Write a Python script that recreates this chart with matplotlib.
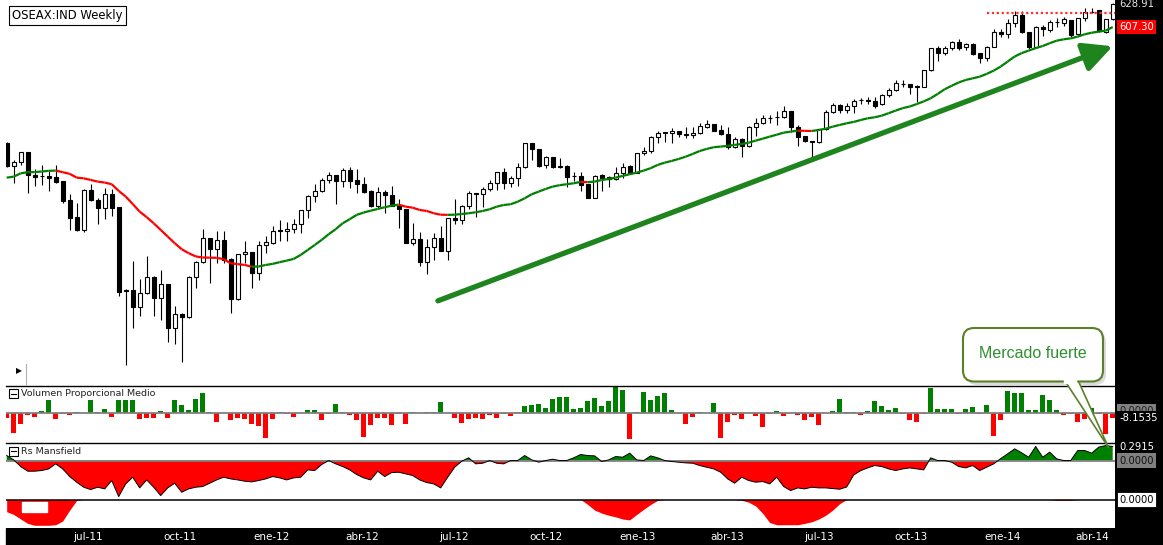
import numpy as np
import pandas as pd
import matplotlib
matplotlib.use("Agg")
import matplotlib.pyplot as plt
import matplotlib.dates as mdates
import matplotlib.transforms as mtransforms
from matplotlib.patches import Rectangle, FancyBboxPatch, Polygon
from matplotlib.collections import LineCollection
from matplotlib.lines import Line2D

plt.rcParams['font.family'] = ['DejaVu Sans']

W, H = 1163, 545

# ---------------- data (weekly candles, OSEAX) ----------------
start_date = "2011-04-11"
n_weeks = 159

opens = [509.3, 492.1, 494.8, 502.4, 485.4, 484.8, 484.7, 484.1, 481.0, 467.3,
         455.3, 446.6, 474.5, 467.5, 461.5, 471.6, 462.2, 407.6, 407.6, 397.6,
         405.7, 415.9, 402.7, 411.3, 385.2, 393.1, 391.1, 415.9, 425.6, 441.0,
         433.7, 439.9, 427.4, 402.0, 430.4, 431.9, 418.2, 436.3, 438.1, 446.4,
         445.7, 447.1, 450.5, 460.1, 470.2, 473.6, 481.7, 485.2, 481.2, 489.1,
         481.7, 478.8, 474.0, 463.3, 472.9, 470.7, 463.3, 460.8, 438.1, 440.8,
         425.6, 435.4, 441.0, 432.7, 454.6, 453.4, 463.3, 472.1, 471.4, 475.0,
         479.3, 487.4, 479.3, 482.9, 491.6, 509.3, 504.6, 492.7, 498.6, 491.6,
         492.1, 484.7, 484.7, 478.6, 469.0, 485.4, 484.1, 482.4, 487.1, 492.1,
         487.1, 501.6, 503.3, 514.1, 517.5, 517.0, 518.8, 516.2, 515.4, 517.0,
         522.3, 524.1, 519.6, 516.2, 506.2, 512.3, 507.0, 522.2, 525.0, 528.8,
         529.8, 529.6, 534.8, 522.2, 514.9, 511.0, 510.0, 520.1, 533.8, 539.7,
         535.6, 538.9, 543.7, 543.8, 543.2, 540.5, 547.9, 552.1, 557.2, 557.1,
         555.6, 554.6, 569.1, 587.9, 583.5, 587.9, 594.0, 589.1, 591.7, 583.5,
         579.3, 589.5, 603.1, 600.7, 610.8, 618.3, 602.5, 589.5, 607.6, 604.6,
         612.0, 611.3, 613.8, 601.0, 615.3, 621.5, 623.2, 603.1, 614.4]

highs = [510.0, 496.5, 502.6, 502.8, 489.6, 492.8, 489.1, 492.8, 481.3, 471.6,
         465.4, 474.8, 478.8, 468.7, 475.7, 475.2, 462.5, 408.2, 426.1, 414.4,
         429.3, 416.2, 420.3, 411.6, 398.2, 393.5, 416.7, 426.0, 447.1, 441.3,
         446.0, 446.0, 427.7, 430.7, 439.4, 432.2, 439.4, 442.2, 449.3, 453.4,
         451.8, 453.9, 460.4, 470.5, 478.6, 482.9, 487.4, 485.5, 490.4, 491.6,
         489.6, 483.7, 474.3, 476.9, 474.5, 477.4, 467.8, 461.1, 451.1, 445.1,
         440.4, 444.4, 449.5, 454.9, 468.0, 463.6, 474.0, 472.4, 476.9, 481.7,
         487.9, 490.4, 484.7, 494.0, 509.6, 509.6, 504.9, 499.5, 498.9, 497.8,
         492.4, 487.9, 487.9, 478.9, 485.2, 486.2, 484.9, 491.6, 494.5, 492.8,
         501.9, 506.6, 514.9, 519.1, 518.3, 520.9, 519.1, 521.7, 521.7, 525.0,
         527.5, 524.4, 523.6, 522.2, 514.4, 513.1, 522.5, 528.9, 531.6, 531.6,
         535.1, 538.9, 535.1, 523.6, 515.2, 511.3, 520.4, 535.6, 541.6, 540.5,
         541.0, 544.4, 545.7, 546.6, 546.6, 548.8, 553.5, 560.5, 560.5, 557.4,
         555.9, 569.4, 588.2, 590.1, 590.1, 594.3, 596.1, 593.1, 593.1, 583.8,
         589.8, 605.2, 605.2, 614.4, 622.6, 622.6, 602.8, 608.2, 609.0, 613.8,
         615.3, 616.3, 614.1, 615.6, 624.8, 624.8, 623.5, 614.7, 629.5]

lows = [491.5, 479.8, 492.8, 472.6, 477.4, 478.1, 474.0, 479.3, 465.0, 446.6,
        445.9, 445.5, 466.8, 450.5, 453.9, 456.2, 404.3, 364.0, 384.8, 392.1,
        405.3, 391.7, 389.7, 377.0, 375.5, 365.8, 390.7, 408.8, 424.6, 412.3,
        424.6, 424.6, 393.6, 401.6, 424.6, 409.2, 414.0, 431.5, 437.0, 439.2,
        439.2, 444.4, 444.8, 455.0, 466.1, 473.3, 479.8, 464.5, 476.9, 475.7,
        472.1, 472.6, 462.6, 461.5, 458.4, 463.0, 447.8, 437.8, 436.5, 422.9,
        417.6, 426.7, 432.4, 426.7, 450.7, 450.7, 460.8, 455.3, 462.6, 474.0,
        474.5, 475.0, 476.9, 477.4, 490.4, 496.5, 491.6, 490.4, 490.4, 490.4,
        476.9, 481.2, 474.0, 468.5, 468.7, 474.0, 476.4, 481.7, 482.9, 486.8,
        486.8, 500.3, 502.1, 509.3, 510.5, 509.7, 513.9, 513.1, 513.1, 516.5,
        520.9, 518.8, 515.9, 504.6, 505.9, 498.5, 506.5, 514.9, 524.4, 525.3,
        523.6, 528.9, 518.3, 507.0, 510.5, 497.0, 509.3, 519.8, 533.0, 533.5,
        533.0, 533.0, 540.5, 540.5, 537.0, 540.0, 546.5, 551.5, 554.9, 549.0,
        542.4, 554.3, 568.5, 577.2, 582.0, 586.6, 586.6, 586.6, 582.0, 575.5,
        577.2, 589.2, 598.6, 597.2, 607.6, 602.2, 587.2, 589.2, 599.2, 603.1,
        607.0, 608.2, 598.1, 600.1, 613.2, 620.0, 603.1, 601.6, 613.8]

closes = [492.1, 494.8, 502.4, 485.4, 483.7, 484.5, 483.4, 480.5, 466.8, 455.0,
          446.6, 474.5, 467.1, 461.5, 471.6, 461.9, 406.7, 407.4, 397.6, 405.7,
          415.9, 402.7, 411.3, 385.2, 393.1, 391.1, 415.9, 425.6, 441.0, 433.7,
          439.9, 426.7, 402.0, 430.4, 431.9, 418.2, 436.3, 438.4, 446.1, 445.7,
          447.1, 450.5, 460.1, 470.2, 473.6, 481.7, 485.2, 481.2, 489.1, 481.2,
          478.6, 473.3, 463.3, 472.9, 470.7, 463.3, 460.8, 438.1, 440.8, 425.6,
          435.4, 441.0, 432.7, 454.6, 453.4, 463.3, 472.1, 471.4, 475.0, 479.3,
          487.4, 479.3, 482.9, 491.6, 509.3, 504.6, 492.1, 498.6, 491.6, 491.8,
          483.7, 484.5, 477.9, 469.0, 484.9, 483.4, 482.4, 487.1, 491.6, 487.1,
          501.6, 503.3, 514.1, 517.0, 517.7, 518.8, 516.2, 515.4, 517.0, 522.8,
          524.1, 519.1, 516.2, 506.2, 512.3, 507.0, 522.2, 525.0, 528.9, 529.0,
          529.6, 534.8, 522.2, 514.4, 511.3, 510.0, 520.1, 533.8, 539.7, 535.6,
          538.9, 543.0, 543.9, 543.3, 538.9, 547.9, 552.1, 558.2, 557.4, 554.6,
          554.6, 569.1, 587.9, 584.0, 587.9, 594.0, 587.9, 591.7, 582.9, 579.3,
          589.5, 603.1, 600.7, 610.8, 618.3, 602.5, 589.5, 607.0, 605.2, 612.1,
          612.2, 614.4, 600.1, 615.3, 621.6, 621.7, 604.0, 614.4, 628.91]

ma_line = [483.4, 484.1, 486.6, 487.4, 487.5, 487.9, 488.4, 488.6, 487.4, 486.2,
           483.4, 482.9, 481.7, 480.5, 479.8, 478.6, 473.8, 469.7, 464.5, 459.1,
           455.3, 451.1, 446.6, 442.1, 437.7, 433.7, 431.1, 429.0, 428.3, 428.2,
           428.1, 427.2, 424.6, 424.0, 423.5, 422.4, 422.5, 423.5, 424.2, 425.3,
           426.3, 427.4, 430.0, 433.2, 436.5, 439.9, 443.7, 447.1, 451.1, 453.9,
           456.9, 458.5, 459.8, 461.0, 462.2, 463.3, 464.0, 462.6, 461.9, 460.3,
           459.6, 458.0, 457.0, 456.9, 457.0, 457.5, 458.0, 458.7, 459.6, 460.8,
           462.6, 463.8, 464.3, 466.1, 468.5, 471.4, 473.3, 475.2, 476.9, 477.9,
           478.6, 479.3, 480.3, 480.1, 480.5, 481.7, 482.4, 483.4, 484.7, 485.9,
           487.1, 488.6, 490.4, 492.8, 494.5, 495.8, 497.3, 499.0, 501.1, 503.3,
           504.9, 506.2, 506.7, 507.2, 508.0, 508.7, 509.7, 511.3, 512.8, 514.4,
           515.9, 517.5, 518.3, 519.1, 518.9, 518.8, 519.6, 520.6, 522.2, 523.6,
           524.9, 526.0, 527.5, 528.9, 529.7, 531.0, 533.0, 535.1, 537.1, 538.4,
           540.4, 542.6, 545.2, 548.8, 552.7, 555.6, 558.4, 560.5, 561.9, 563.3,
           565.7, 568.5, 572.0, 576.4, 580.8, 583.8, 586.0, 588.2, 590.1, 592.6,
           594.9, 596.1, 597.0, 598.5, 600.7, 602.1, 603.1, 604.0, 607.3]

volume_rel = [-7.7, -31.1, -17.3, -3.1, -6.6, 3.6, 20.4, -9.7, -2.0, -3.1,
              2.0, 0.5, 20.4, 2.0, 6.6, -6.6, 20.4, 20.4, 20.4, -9.7,
              -8.2, -8.2, 3.6, -8.2, 20.4, 11.7, 5.1, 21.9, 30.6, 2.0,
              -14.3, -0.5, -11.2, -8.2, -9.7, -17.3, -20.4, -38.8, -9.7, 2.0,
              -2.0, -6.6, 0.5, 5.1, 5.1, -11.2, -2.0, 14.3, 2.0, -3.1,
              -11.2, -37.2, -18.9, -8.2, -8.2, -18.9, -2.0, -17.3, 2.0, 0.5,
              2.0, 2.0, 17.3, -0.5, -8.2, -15.8, -9.7, -8.2, -9.7, -3.6,
              -8.2, -2.0, -4.6, 2.0, 11.2, 12.8, 14.3, 8.2, 21.9, 24.0,
              25.0, 6.6, 8.2, 17.9, 23.0, 11.2, 17.9, 39.3, 35.7, -39.8,
              2.0, 32.6, 20.4, 26.5, 30.6, 5.1, 0.3, -16.8, -6.6, 2.0,
              -0.3, 15.3, -38.3, -14.3, -3.6, -9.7, 0.3, -5.1, -21.9, -2.0,
              3.6, -5.1, 0.3, -3.6, -11.2, -6.1, -18.4, 0.3, 3.6, 21.4,
              2.0, 2.0, -3.6, 3.6, 18.9, 11.2, 5.1, 8.2, -2.0, -11.2,
              -14.3, -2.0, 37.7, 6.6, 6.6, 6.6, -2.0, 6.6, 9.7, -2.0,
              12.8, -35.7, -11.2, 34.2, 30.6, 30.6, 5.1, 5.1, 28.1, 20.4,
              5.1, -3.6, -2.0, -14.3, -9.7, 8.2, -2.0, -32.0, -8.1535]

rs_mansfield = [0.104, 0.014, -0.125, -0.222, -0.222, -0.208, -0.174, -0.069, -0.174, -0.333,
                -0.451, -0.555, -0.604, -0.555, -0.590, -0.416, -0.750, -0.486, -0.347, -0.569,
                -0.403, -0.555, -0.729, -0.569, -0.472, -0.659, -0.590, -0.555, -0.541, -0.472,
                -0.403, -0.347, -0.382, -0.403, -0.430, -0.444, -0.416, -0.382, -0.333, -0.361,
                -0.403, -0.361, -0.347, -0.194, -0.208, -0.083, 0.000, -0.069, -0.125, -0.194,
                -0.291, -0.361, -0.403, -0.222, -0.333, -0.250, -0.243, -0.278, -0.312, -0.403,
                -0.458, -0.486, -0.569, -0.347, -0.139, -0.014, 0.056, -0.069, -0.056, 0.000,
                -0.056, -0.069, 0.000, 0.000, 0.104, 0.014, -0.035, 0.000, 0.028, 0.000,
                0.000, 0.056, 0.125, 0.104, 0.097, -0.021, 0.014, 0.083, 0.069, 0.153,
                0.014, 0.000, 0.097, 0.056, 0.000, -0.021, -0.035, -0.049, -0.056, -0.104,
                -0.139, -0.174, -0.243, -0.382, -0.472, -0.347, -0.416, -0.451, -0.437, -0.486,
                -0.347, -0.541, -0.625, -0.569, -0.590, -0.555, -0.569, -0.569, -0.583, -0.597,
                -0.550, -0.300, -0.210, -0.153, -0.104, -0.125, -0.174, -0.208, -0.174, -0.153,
                -0.174, -0.194, 0.056, 0.000, 0.000, -0.035, -0.125, -0.153, -0.104, -0.208,
                -0.139, -0.069, 0.040, 0.140, 0.243, 0.160, 0.069, 0.292, 0.069, 0.174,
                0.035, 0.000, 0.000, 0.208, 0.208, 0.153, 0.278, 0.312, 0.2915]

lower_osc = [-0.45, -0.55, -0.72, -0.88, -0.95, -0.95, -0.95, -0.93, -0.79, -0.39,
             -0.03, 0, 0, 0, 0, 0, 0, 0, 0, 0,
             0, 0, 0, 0, 0, 0, 0, 0, 0, 0,
             0, 0, 0, 0, 0, 0, 0, 0, 0, 0,
             0, 0, 0, 0, 0, 0, 0, 0, 0, 0,
             0, 0, 0, 0, 0, 0, 0, 0, 0, 0,
             0, 0, 0, 0, 0, 0, 0, 0, 0, 0,
             0, 0, 0, 0, 0, 0, 0, 0, 0, 0,
             0, 0, 0, -0.18, -0.39, -0.50, -0.58, -0.64, -0.72, -0.75,
             -0.55, -0.36, -0.18, -0.03, 0, 0, 0, 0, 0, 0,
             0, 0, 0, 0, 0, -0.03, -0.10, -0.24, -0.51, -0.85,
             -0.93, -0.93, -0.93, -0.93, -0.88, -0.82, -0.72, -0.58, -0.39, -0.15,
             0, 0, 0, 0, 0, 0, 0, 0, 0, 0,
             0, 0, 0, 0, 0, 0, 0, 0, 0, 0,
             0, 0, 0, 0, 0, 0, 0, 0, 0, 0,
             -0.03, -0.03, -0.03, 0, 0, 0, 0, 0, 0]

tick_dates = ["2011-07-01", "2011-10-01", "2012-01-01", "2012-04-01", "2012-07-01",
              "2012-10-01", "2013-01-01", "2013-04-01", "2013-07-01", "2013-10-01",
              "2014-01-01", "2014-04-01"]
tick_labels = ["jul-11", "oct-11", "ene-12", "abr-12", "jul-12", "oct-12",
               "ene-13", "abr-13", "jul-13", "oct-13", "ene-14", "abr-14"]

resistance_level = 620.0
resistance_from_week = 140
last_close = 628.91
ma_last = 607.30
vol_last = -8.1535
rs_last = 0.2915
arrow_tail = (61.6, 401.1)   # (week index, price)
arrow_head = (158.0, 589.9)

# ---------------- build ----------------
dates = pd.date_range(start_date, periods=n_weeks, freq="7D")
x = mdates.date2num(dates)
o = np.array(opens); h = np.array(highs); l = np.array(lows); c = np.array(closes)
ma = np.array(ma_line)
vol = np.array(volume_rel)
rs = np.array(rs_mansfield)
low_osc = np.array(lower_osc, dtype=float)

fig = plt.figure(figsize=(W / 100, H / 100), dpi=100)
fig.patch.set_facecolor("white")
PX = mtransforms.Affine2D().scale(1 / 100, -1 / 100).translate(0, H / 100) + fig.dpi_scale_trans


def frac(x0, y0, x1, y1):
    return [x0 / W, 1 - y1 / H, (x1 - x0) / W, (y1 - y0) / H]


XL = (x[0] - 0.5, x[0] + 1108.3)
AXL, AXR = 6.2, 1115

# black strips
fig.add_artist(Rectangle((AXR, 0), W - AXR, H, transform=PX, color="black", zorder=-1))
fig.add_artist(Rectangle((AXL, 528), W - AXL, 17, transform=PX, color="black", zorder=-1))

# ---- main panel ----
axm = fig.add_axes(frac(AXL, 0, AXR, 385.5))
axm.set_yscale("log")
axm.set_ylim(352.8, 632.7)
axm.set_xlim(*XL)
for s in axm.spines.values():
    s.set_visible(False)
axm.set_xticks([]); axm.set_yticks([])
axm.yaxis.set_minor_locator(matplotlib.ticker.NullLocator())

up = c >= o
blo = np.minimum(o, c); bhi = np.maximum(o, c)
axm.vlines(x, l, h, color="black", lw=0.8, zorder=2)
axm.bar(x, bhi - blo, bottom=blo, width=4.4, color=np.where(up, "white", "black"),
        edgecolor="black", linewidth=0.8, zorder=3)

pts = np.column_stack([x, ma])
segs = np.stack([pts[:-1], pts[1:]], axis=1)
cols = ["#008000" if ma[i + 1] >= ma[i] else "#ff0000" for i in range(len(ma) - 1)]
axm.add_collection(LineCollection(segs, colors=cols, linewidths=1.6, zorder=4))

axm.hlines(resistance_level, x[resistance_from_week], XL[1], colors="#ff3030",
           linestyles=(0, (1, 1.2)), lw=1.6, zorder=4)

axm.annotate("", xy=(x[0] + 7 * arrow_head[0], arrow_head[1]),
             xytext=(x[0] + 7 * arrow_tail[0], arrow_tail[1]),
             arrowprops=dict(arrowstyle="-|>,head_length=1.1,head_width=0.55",
                             color="#1e841e", lw=3.8, mutation_scale=16,
                             shrinkA=0, shrinkB=0), zorder=5)

# ---- volume panel ----
axv = fig.add_axes(frac(AXL, 385.5, AXR, 442.5))
axv.set_xlim(*XL); axv.set_ylim(-45, 42)
axv.bar(x, vol, width=5.0, color=np.where(vol >= 0, "#008000", "#ff0000"), linewidth=0)
axv.axhline(0, color="#808080", lw=1.3)
axv.set_xticks([]); axv.set_yticks([])
for k, s in axv.spines.items():
    s.set_visible(k == "top")
axv.spines["top"].set_color("black"); axv.spines["top"].set_linewidth(1.0)

# ---- Rs Mansfield panel ----
axr = fig.add_axes(frac(AXL, 442.5, AXR, 499))
axr.set_xlim(*XL); axr.set_ylim(-0.80, 0.375)
axr.fill_between(x, rs, 0, where=rs >= 0, interpolate=True, color="#008000", lw=0)
axr.fill_between(x, rs, 0, where=rs <= 0, interpolate=True, color="#ff0000", lw=0)
axr.axhline(0, color="#808080", lw=1.3)
axr.plot(x, rs, color="black", lw=0.7)
axr.set_xticks([]); axr.set_yticks([])
for k, s in axr.spines.items():
    s.set_visible(k == "top")
axr.spines["top"].set_color("black"); axr.spines["top"].set_linewidth(1.0)

# ---- lower oscillator panel ----
axb = fig.add_axes(frac(AXL, 499, AXR, 528))
axb.set_xlim(*XL); axb.set_ylim(-1.05, 0.02)
axb.fill_between(x, low_osc, 0, color="#ff0000", lw=0)
axb.axhline(0, color="black", lw=1.1)
for s in axb.spines.values():
    s.set_visible(False)
axb.set_yticks([])
axb.set_xticks(mdates.date2num(pd.to_datetime(tick_dates)))
axb.set_xticklabels(tick_labels, color="white", fontsize=7.5)
axb.tick_params(axis="x", length=0, pad=2.8)

# white box artifact in lower panel
fig.add_artist(Rectangle((21.7, 501.7), 25, 10, transform=PX, color="white", zorder=3))

# ---- title & panel headers ----
fig.text(12.5 / W, 1 - 15.5 / H, "OSEAX:IND Weekly", fontsize=8.4, va="center", ha="left",
         bbox=dict(boxstyle="square,pad=0.28", fc="white", ec="black", lw=0.8), zorder=6)

for ytop, label in [(389, "Volumen Proporcional Medio"), (446.5, "Rs Mansfield")]:
    fig.add_artist(Rectangle((8.5, ytop), 9, 9, transform=PX, fc="white", ec="black", lw=0.8, zorder=6))
    fig.add_artist(Line2D([10.5, 15.5], [ytop + 4.5, ytop + 4.5], transform=PX, color="black", lw=0.8, zorder=7))
    fig.text(21 / W, 1 - (ytop + 4.7) / H, label, fontsize=6.8, va="center", ha="left",
             color="#222222", zorder=6)

fig.text(16 / W, 1 - 371 / H, "\u25B6", fontsize=5.5, va="center", ha="left", color="black", zorder=6)
fig.add_artist(Line2D([26, 26], [364, 385], transform=PX, color="#b0b0b0", lw=0.8, zorder=6))

# ---- right-hand value labels ----
def rlabel(ax, yval, text, fc, tc, ec="none"):
    tr = mtransforms.blended_transform_factory(fig.transFigure, ax.transData)
    ax.text(1119.5 / W, yval, text, transform=tr, fontsize=7.2, color=tc, ha="left",
            va="center", clip_on=False, zorder=10,
            bbox=dict(boxstyle="square,pad=0.22", fc=fc, ec=ec, lw=0.6))

rlabel(axm, last_close, "628.91", "black", "#e8e8e8")
rlabel(axm, ma_last, "607.30", "#ff0000", "white")
rlabel(axv, 3.5, "0.0000", "#808080", "#202020")
rlabel(axv, vol_last, "%.4f" % vol_last, "black", "white")
rlabel(axr, rs_last, "%.4f" % rs_last, "black", "white")
rlabel(axr, 0.0, "0.0000", "#808080", "#101010")
rlabel(axb, 0.0, "0.0000", "white", "black", ec="black")

# ---- callout "Mercado fuerte" ----
fig.add_artist(FancyBboxPatch((966, 331), 140, 54, boxstyle="round,pad=0,rounding_size=11",
                              transform=PX, fc="#9a9a9a", ec="none", alpha=0.35, zorder=7))
tail = Polygon([(1063, 378), (1108.5, 447.5), (1077, 378)], closed=True, transform=PX,
               fc="white", ec="#5b7f2a", lw=1.2, zorder=8)
fig.add_artist(tail)
fig.add_artist(FancyBboxPatch((963, 328), 140, 53.5, boxstyle="round,pad=0,rounding_size=11",
                              transform=PX, fc="white", ec="#5b7f2a", lw=1.5, zorder=9))
fig.add_artist(Rectangle((1064.2, 379), 11.6, 4, transform=PX, color="white", zorder=9.5))
fig.text(1033 / W, 1 - 353 / H, "Mercado fuerte", fontsize=11.5, family=["Liberation Sans", "DejaVu Sans"],
         color="#2f8f2f", ha="center", va="center", zorder=10)

fig.savefig("out.png", dpi=100, facecolor="white")
